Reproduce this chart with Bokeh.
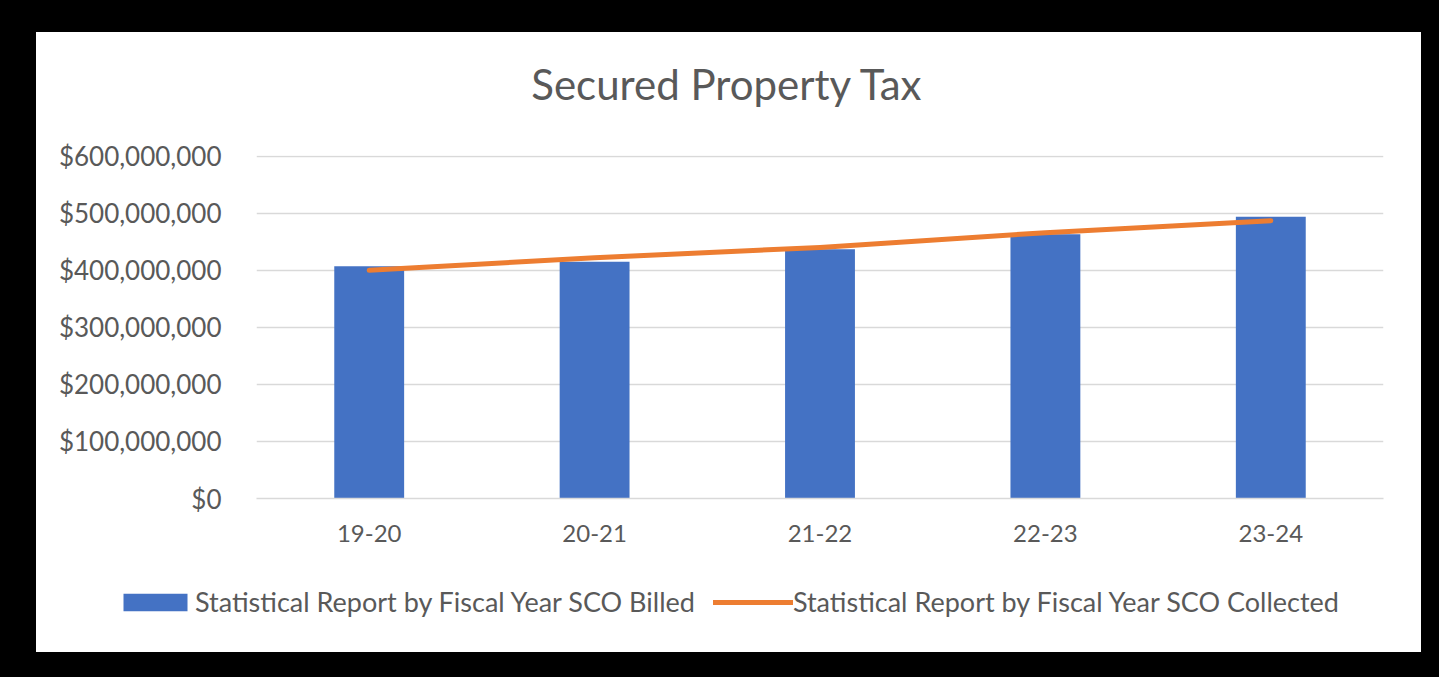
from bokeh.plotting import figure
from bokeh.models import (ColumnDataSource, FactorRange, Range1d, FixedTicker,
                          NumeralTickFormatter, Legend, LegendItem, Label)
from bokeh.layouts import column
from bokeh.embed import file_html
from bokeh.resources import INLINE

# ---- data ----
fiscal_years = ["19-20", "20-21", "21-22", "22-23", "23-24"]
sco_billed = [407_000_000, 415_000_000, 437_000_000, 463_000_000, 494_000_000]
sco_collected = [400_000_000, 422_000_000, 440_000_000, 466_000_000, 487_000_000]
y_ticks = [0, 100_000_000, 200_000_000, 300_000_000, 400_000_000, 500_000_000, 600_000_000]
title_text = "Secured Property Tax"
billed_label = "Statistical Report by Fiscal Year SCO Billed"
collected_label = "Statistical Report by Fiscal Year SCO Collected"

src = ColumnDataSource(dict(year=fiscal_years, billed=sco_billed, collected=sco_collected))

FONT = "Lato"
TEXT = "#595959"
GRID = "#d9d9d9"
BLUE = "#4472C4"
ORANGE = "#ED7D31"


def blank_strip(height):
    f = figure(width=1385, height=height, output_backend="svg", toolbar_location=None,
               x_range=Range1d(0, 1), y_range=Range1d(0, 1),
               x_axis_type=None, y_axis_type=None, min_border=0)
    f.frame_align = False
    f.border_fill_color = "white"
    f.background_fill_color = "white"
    f.outline_line_color = None
    return f


# ---- title strip ----
tt = blank_strip(98)
tt.add_layout(Label(x=691, y=47, x_units="screen", y_units="screen", text=title_text,
                    text_align="center", text_baseline="middle", text_font=FONT,
                    text_font_size="42px", text_color=TEXT))

# ---- main chart ----
# the range top is nudged just past the last tick so its gridline is drawn
p = figure(width=1385, height=432, output_backend="svg", toolbar_location=None,
           x_range=FactorRange(factors=fiscal_years),
           y_range=Range1d(0, y_ticks[-1] * 1.002),
           min_border_left=220, min_border_right=38, min_border_top=25, min_border_bottom=64)
p.frame_align = False
p.border_fill_color = "white"
p.background_fill_color = "white"
p.outline_line_color = None

p.vbar(x="year", top="billed", width=0.31, source=src, fill_color=BLUE, line_color=None)
p.line(x="year", y="collected", source=src, line_color=ORANGE,
       line_width=5, line_cap="round", line_join="round")

p.yaxis.ticker = FixedTicker(ticks=y_ticks)
p.yaxis.formatter = NumeralTickFormatter(format="$0,0")
p.yaxis.axis_line_color = None
p.yaxis.major_tick_line_color = None
p.yaxis.minor_tick_line_color = None
p.yaxis.major_tick_out = 0
p.yaxis.major_label_standoff = 35
p.yaxis.major_label_text_font = FONT
p.yaxis.major_label_text_font_size = "26px"
p.yaxis.major_label_text_color = TEXT

p.xaxis.axis_line_color = GRID
p.xaxis.axis_line_width = 1.5
p.xaxis.major_tick_line_color = None
p.xaxis.minor_tick_line_color = None
p.xaxis.major_tick_out = 0
p.xaxis.major_label_standoff = 26
p.xaxis.major_label_text_font = FONT
p.xaxis.major_label_text_font_size = "24px"
p.xaxis.major_label_text_color = TEXT

p.xgrid.grid_line_color = None
p.ygrid.grid_line_color = GRID
p.ygrid.grid_line_width = 1.5

# ---- legend strip: keys from glyphs styled like the series (no visible data) ----
key_src = ColumnDataSource(dict(x=[float("nan")], y=[float("nan")]))
lg = blank_strip(90)
key_bar = lg.vbar(x="x", top="y", width=0.31, source=key_src,
                  fill_color=BLUE, line_color=None)
key_line = lg.line(x="x", y="y", source=key_src, line_color=ORANGE,
                   line_width=5, line_cap="round")
legend = Legend(items=[LegendItem(label=billed_label, renderers=[key_bar]),
                       LegendItem(label=collected_label, renderers=[key_line])],
                orientation="horizontal", location=(79, 34),
                glyph_width=80, glyph_height=22, label_standoff=0, spacing=18,
                padding=0, margin=0, border_line_color=None, background_fill_alpha=0,
                label_text_font=FONT, label_text_font_size="27px", label_text_color=TEXT)
lg.add_layout(legend)

panel = column(tt, p, lg, spacing=0, styles={"background-color": "white"})
page = column(panel, styles={"background-color": "black", "padding": "32px 18px 25px 36px"})

open("out.html", "w").write(file_html(page, INLINE))
